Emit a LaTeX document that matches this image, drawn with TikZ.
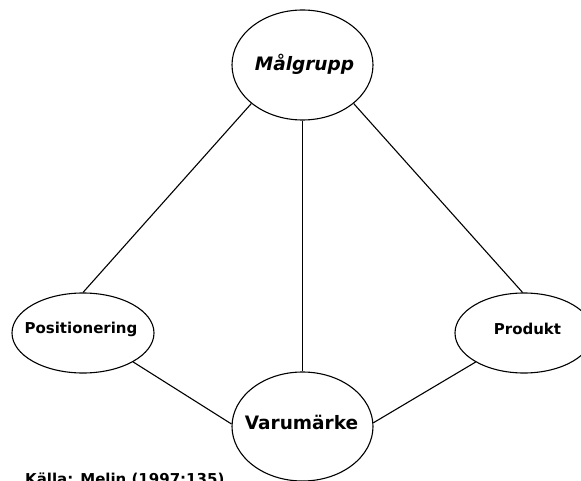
\documentclass[tikz,border=0pt]{standalone}
\usepackage{fontspec}
\setmainfont{DejaVu Sans}
\usetikzlibrary{shapes.geometric}
\tikzset{
  oval/.style={draw=black, line width=1.1pt, ellipse, inner sep=0pt},
  link/.style={draw=black, line width=1.1pt},
  bigtxt/.style={font=\fontsize{18.5}{20}\selectfont\bfseries, inner sep=0pt, anchor=base},
  smalltxt/.style={font=\fontsize{15}{17}\selectfont\bfseries, inner sep=0pt, anchor=base},
}
\begin{document}
\begin{tikzpicture}[x=1pt,y=-1pt]
\clip (0,0) rectangle (581,481);
\fill[white] (0,0) rectangle (581,481);
\node[oval, minimum width=141pt, minimum height=110pt] (M) at (302.5,65) {};
\node[oval, minimum width=142pt, minimum height=80pt] (P) at (83,333) {};
\node[oval, minimum width=138pt, minimum height=80pt] (R) at (524,333) {};
\node[oval, minimum width=141pt, minimum height=109pt] (V) at (302.5,426.5) {};
\node[bigtxt, font=\fontsize{18.5}{20}\selectfont\bfseries\itshape] (tM) at (304.5,71) {Målgrupp};
\node[smalltxt] (tP) at (81,333) {Positionering};
\node[smalltxt] (tR) at (527.5,334) {Produkt};
\node[bigtxt] (tV) at (301.5,429) {Varumärke};
\node[smalltxt, anchor=base west] (src) at (25,484) {Källa: Melin (1997:135)};
\draw[link] (M.217) -- (P.north);
\draw[link] (M.323) -- (R.92);
\draw[link] (M.south) -- (V.north);
\draw[link] (P.330) -- (V.178);
\draw[link] (R.211) -- (V.3);
\end{tikzpicture}
\end{document}
